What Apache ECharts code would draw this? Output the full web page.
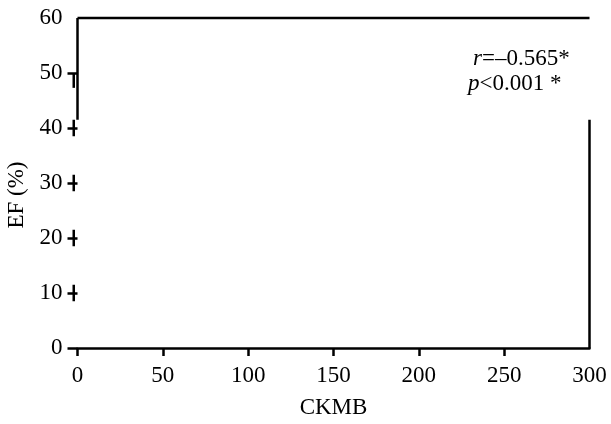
<!DOCTYPE html>
<html>
<head>
<meta charset="utf-8">
<script src="https://cdn.jsdelivr.net/npm/echarts@6/dist/echarts.min.js"></script>
<style>html,body{margin:0;padding:0;background:#fff}#c{width:611px;height:424px}</style>
</head>
<body>
<div id="c"></div>
<script>
// ---- data ----
const xTickValues = [0, 50, 100, 150, 200, 250];
const yTickValues = [0, 10, 20, 30, 40, 50];
const xRange = [0, 300];
const yRange = [0, 60];
// visible frame pieces [x1, y1, x2, y2] in data units
const frameSegments = [
  [0, 41.5, 0, 60],
  [0, 60, 300, 60],
  [300, 41.5, 300, 0]
];
// short vertical strokes next to the y ticks [x1, y1, x2, y2]
const tickStrokes = [
  [-2.2, 50, -2.2, 47.3],
  [-2.2, 41.5, -2.2, 38.5],
  [-2.2, 31.5, -2.2, 28.5],
  [-2.2, 21.5, -2.2, 18.5],
  [-2.2, 11.5, -2.2, 8.5]
];
const statR = '–0.565*';
const statP = '<0.001 *';
const xName = 'CKMB';
const yName = 'EF (%)';

const font = 'Liberation Serif';
const chart = echarts.init(document.getElementById('c'), null, {renderer: 'canvas'});

function segRender(params, api) {
  const p1 = api.coord([api.value(0), api.value(1)]);
  const p2 = api.coord([api.value(2), api.value(3)]);
  return {
    type: 'line',
    shape: {x1: p1[0], y1: p1[1], x2: p2[0], y2: p2[1]},
    style: {stroke: '#000', lineWidth: 2.5}
  };
}

chart.setOption({
  animation: false,
  backgroundColor: '#fff',
  grid: {left: 77.5, right: 21.5, top: 18, bottom: 76, containLabel: false, outerBoundsMode: 'none'},
  xAxis: {
    type: 'value', min: xRange[0], max: xRange[1], interval: 50,
    name: xName, nameLocation: 'middle', nameGap: 48,
    nameTextStyle: {fontFamily: font, fontSize: 23, color: '#000'},
    axisLine: {show: true, lineStyle: {color: '#000', width: 2.5}},
    axisTick: {show: true, length: 8, lineStyle: {color: '#000', width: 2.5}, customValues: xTickValues},
    axisLabel: {fontFamily: font, fontSize: 23, color: '#000', margin: 16},
    splitLine: {show: false}
  },
  yAxis: {
    type: 'value', min: yRange[0], max: yRange[1], interval: 10,
    name: yName, nameLocation: 'middle', nameGap: 41, nameRotate: 90,
    nameTextStyle: {fontFamily: font, fontSize: 23, color: '#000', padding: [0, 24, 0, 0]},
    axisLine: {show: false},
    axisTick: {show: true, length: 10, lineStyle: {color: '#000', width: 2.5}, customValues: yTickValues},
    axisLabel: {fontFamily: font, fontSize: 23, color: '#000', margin: 15},
    splitLine: {show: false}
  },
  series: [
    {type: 'custom', name: 'frame', renderItem: segRender, data: frameSegments, clip: false, silent: true},
    {type: 'custom', name: 'strokes', renderItem: segRender, data: tickStrokes, clip: false, silent: true}
  ],
  graphic: [
    {type: 'text', left: 473, top: 47, style: {
      text: '{i|r}{n|=' + statR + '}',
      rich: {i: {fontFamily: font, fontStyle: 'italic', fontSize: 23, fill: '#000'},
             n: {fontFamily: font, fontSize: 23, fill: '#000'}}
    }},
    {type: 'text', left: 468, top: 72, style: {
      text: '{i|p}{n|' + statP + '}',
      rich: {i: {fontFamily: font, fontStyle: 'italic', fontSize: 23, fill: '#000'},
             n: {fontFamily: font, fontSize: 23, fill: '#000'}}
    }}
  ]
});
</script>
</body>
</html>
